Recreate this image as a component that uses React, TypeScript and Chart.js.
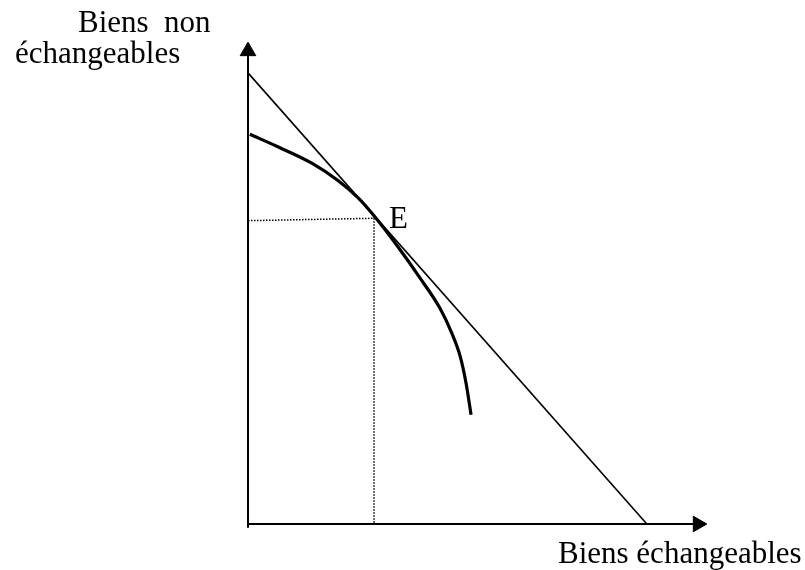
import React, { useEffect, useRef } from "react";
import { Chart, registerables } from "chart.js";

Chart.register(...registerables);

// Production possibility curve (Biens échangeables vs Biens non échangeables)
const curveX = [0.04, 0.65, 1.39, 1.96, 2.4, 2.745, 3.25, 3.75, 4.18, 4.44, 4.62, 4.75, 4.86];
const curveY = [8.07, 7.81, 7.47, 7.11, 6.75, 6.38, 5.76, 5.09, 4.47, 3.95, 3.48, 2.92, 2.26];

// Price (budget) line tangent at E
const budgetX = [0, 8.69];
const budgetY = [9.34, 0];

// Equilibrium point E
const eX = 2.745;
const eY = 6.33;
const eYLeft = 6.28;

// Axis extents
const xAxisEnd = 9.8;
const yAxisEnd = 9.79;
const yAxisStart = -0.08;

const xLabel = "Biens échangeables";
const yLabelLine1 = "Biens  non";
const yLabelLine2 = "échangeables";
const eLabel = "E";

const zip = (xs: number[], ys: number[]) => xs.map((x, i) => ({ x, y: ys[i] }));

const textStyle: React.CSSProperties = {
  position: "absolute",
  fontFamily: '"Liberation Serif", "Times New Roman", serif',
  fontSize: "31px",
  lineHeight: "31px",
  whiteSpace: "pre",
  color: "#000",
  margin: 0,
};

export default function App() {
  const ref = useRef<HTMLCanvasElement | null>(null);

  useEffect(() => {
    if (!ref.current) return;
    const chart = new Chart(ref.current, {
      type: "scatter",
      data: {
        datasets: [
          {
            label: "axe y",
            data: [
              { x: 0, y: yAxisStart },
              { x: 0, y: yAxisEnd },
            ],
            showLine: true,
            borderColor: "#000",
            borderWidth: 2,
            pointRadius: [0, 9],
            pointStyle: "triangle",
            pointBackgroundColor: "#000",
            pointBorderColor: "#000",
            pointBorderWidth: 1,
            pointRotation: 0,
            clip: false,
          } as any,
          {
            label: "axe x",
            data: [
              { x: 0, y: 0 },
              { x: xAxisEnd, y: 0 },
            ],
            showLine: true,
            borderColor: "#000",
            borderWidth: 2,
            pointRadius: [0, 9],
            pointStyle: "triangle",
            pointBackgroundColor: "#000",
            pointBorderColor: "#000",
            pointBorderWidth: 1,
            pointRotation: 90,
            clip: false,
          } as any,
          {
            label: "droite de prix",
            data: zip(budgetX, budgetY),
            showLine: true,
            borderColor: "#000",
            borderWidth: 1.6,
            pointRadius: 0,
            clip: false,
          },
          {
            label: "frontière",
            data: zip(curveX, curveY),
            showLine: true,
            borderColor: "#000",
            borderWidth: 3.2,
            pointRadius: 0,
            cubicInterpolationMode: "monotone",
            borderCapStyle: "butt",
            borderJoinStyle: "round",
            clip: false,
          } as any,
          {
            label: "pointillé h",
            data: [
              { x: 0, y: eYLeft },
              { x: eX, y: eY },
            ],
            showLine: true,
            borderColor: "#000",
            borderWidth: 1.5,
            borderDash: [1.5, 1.5],
            pointRadius: 0,
            clip: false,
          },
          {
            label: "pointillé v",
            data: [
              { x: eX, y: eY },
              { x: eX, y: 0 },
            ],
            showLine: true,
            borderColor: "#000",
            borderWidth: 1.5,
            borderDash: [1.5, 1.5],
            pointRadius: 0,
            clip: false,
          },
        ],
      },
      options: {
        animation: false,
        responsive: false,
        maintainAspectRatio: false,
        layout: { padding: { left: 248, right: 98, top: 41, bottom: 46 } },
        plugins: {
          legend: { display: false },
          title: { display: false },
          tooltip: { enabled: false },
        },
        scales: {
          x: { type: "linear", min: 0, max: 10, display: false },
          y: { type: "linear", min: 0, max: 10, display: false },
        },
        events: [],
      },
    });
    return () => chart.destroy();
  }, []);

  return (
    <div
      style={{
        position: "absolute",
        left: 0,
        top: 0,
        width: 805,
        height: 570,
        background: "#fff",
        overflow: "hidden",
      }}
    >
      <canvas ref={ref} width={805} height={570} style={{ display: "block", width: 805, height: 570 }} />
      <div style={{ ...textStyle, left: 78, top: 6 }}>{yLabelLine1}</div>
      <div style={{ ...textStyle, left: 15, top: 37 }}>{yLabelLine2}</div>
      <div style={{ ...textStyle, left: 389, top: 202 }}>{eLabel}</div>
      <div style={{ ...textStyle, left: 558, top: 537 }}>{xLabel}</div>
    </div>
  );
}
